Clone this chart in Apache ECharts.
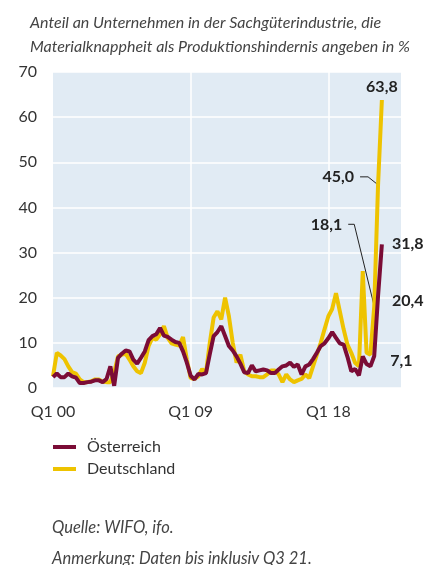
<!DOCTYPE html>
<html>
<head>
<meta charset="utf-8">
<script src="https://cdn.jsdelivr.net/npm/echarts@6/dist/echarts.min.js"></script>
<style>
  html, body { margin: 0; padding: 0; background: #fff; }
  #chart { width: 439px; height: 565px; }
</style>
</head>
<body>
<div id="chart"></div>
<script>
// quarterly values Q1 2000 .. Q3 2021
var oesterreich = [
  2.4, 3.2, 2.4, 2.4, 3.2, 2.6, 2.3, 1.1, 1.1, 1.3,
  1.4, 1.7, 1.7, 1.3, 2.0, 4.8, 0.5, 6.7, 7.6, 8.3,
  8.1, 6.3, 5.4, 6.7, 8.1, 10.6, 11.5, 11.9, 13.3, 11.6,
  11.3, 10.7, 10.2, 10.0, 8.1, 5.6, 2.7, 1.9, 3.1, 3.0,
  3.3, 7.5, 11.5, 12.4, 13.7, 11.5, 9.3, 8.3, 7.0, 5.4,
  3.5, 3.3, 5.0, 3.7, 3.9, 4.1, 3.9, 3.3, 3.3, 4.1,
  4.8, 5.0, 5.6, 4.7, 5.2, 3.0, 4.8, 5.2, 6.4, 7.8,
  9.3, 9.9, 11.0, 12.4, 11.1, 9.9, 9.6, 6.9, 3.7, 4.2,
  2.8, 7.0, 5.3, 4.8, 7.1, 20.4, 31.8
];
var deutschland = [
  2.6, 7.8, 7.2, 6.4, 4.8, 3.5, 3.2, 1.9, 1.3, 1.3,
  1.5, 1.9, 1.9, 1.4, 1.3, 1.3, 3.5, 7.0, 7.4, 7.6,
  6.3, 4.8, 3.7, 3.3, 5.6, 9.3, 11.1, 10.7, 11.9, 13.7,
  11.1, 9.9, 9.6, 9.4, 11.3, 6.3, 2.2, 2.0, 2.6, 4.2,
  3.3, 10.0, 15.6, 17.0, 15.2, 20.0, 15.9, 10.0, 5.6, 7.4,
  3.7, 3.0, 2.6, 2.6, 2.4, 2.4, 3.0, 3.9, 3.9, 3.0,
  1.3, 3.0, 1.9, 1.3, 1.7, 2.0, 3.0, 2.2, 4.8, 7.4,
  10.0, 13.0, 15.9, 17.5, 21.0, 17.0, 13.0, 9.6, 7.8, 5.6,
  4.8, 25.9, 7.8, 7.4, 18.1, 45.0, 63.8
];
var tickLabels = ['Q1 00', 'Q1 09', 'Q1 18'];
var yTicks = [0, 10, 20, 30, 40, 50, 60, 70];

// axis runs Q1 2000 .. Q4 2022
var quarters = [];
for (var y = 0; y <= 22; y++) {
  for (var q = 1; q <= 4; q++) {
    quarters.push('Q' + q + ' ' + (y < 10 ? '0' + y : '' + y));
  }
}

var font = 'Lato, "Open Sans", sans-serif';
var fmt = function (v) { return v.toFixed(1).replace('.', ','); };

var chart = echarts.init(document.getElementById('chart'));
chart.setOption({
  animation: false,
  textStyle: { fontFamily: font },
  title: [{
    text: 'Anteil an Unternehmen in der Sachgüterindustrie, die\nMaterialknappheit als Produktionshindernis angeben in %',
    left: 25, top: 6,
    textStyle: { fontFamily: font, fontStyle: 'italic', fontWeight: 'normal', fontSize: 16, lineHeight: 24, color: '#444' }
  }, {
    text: 'Quelle: WIFO, ifo.',
    left: 47, top: 514,
    textStyle: { fontFamily: font, fontStyle: 'italic', fontWeight: 'normal', fontSize: 16.5, color: '#444' }
  }, {
    text: 'Anmerkung: Daten bis inklusiv Q3 21.',
    left: 47, top: 545,
    textStyle: { fontFamily: font, fontStyle: 'italic', fontWeight: 'normal', fontSize: 16.5, color: '#444' }
  }],
  legend: {
    data: ['Österreich', 'Deutschland'],
    orient: 'vertical',
    left: 48, top: 434,
    icon: 'rect',
    itemWidth: 23, itemHeight: 4,
    itemGap: 6,
    textStyle: { fontFamily: font, fontSize: 16, color: '#333', padding: [0, 0, 0, 6], lineHeight: 16 }
  },
  grid: { left: 53, right: 38, top: 72, bottom: 177, show: true, backgroundColor: '#e1ebf4', borderWidth: 0 },
  xAxis: {
    type: 'category',
    data: quarters,
    boundaryGap: false,
    axisLine: { show: false },
    axisTick: { show: false },
    axisLabel: {
      interval: function (i, v) { return tickLabels.indexOf(v) >= 0; },
      fontSize: 16, color: '#333', margin: 16
    },
    splitLine: {
      show: true,
      interval: function (i, v) { return i > 0 && tickLabels.indexOf(v) >= 0; },
      lineStyle: { color: '#fff', width: 1.5 }
    }
  },
  yAxis: {
    type: 'value',
    min: yTicks[0], max: yTicks[yTicks.length - 1], interval: 10,
    axisLine: { show: false },
    axisTick: { show: false },
    axisLabel: { fontSize: 16, color: '#333', margin: 16 },
    splitLine: { lineStyle: { color: '#fff', width: 1.5 } }
  },
  series: [{
    name: 'Deutschland',
    type: 'line',
    data: deutschland,
    showSymbol: false,
    lineStyle: { color: '#eec300', width: 4 },
    itemStyle: { color: '#eec300' }
  }, {
    name: 'Österreich',
    type: 'line',
    data: oesterreich,
    showSymbol: false,
    lineStyle: { color: '#7b0c36', width: 4 },
    itemStyle: { color: '#7b0c36' }
  }]
});

// value annotations next to the last three quarters
var n = deutschland.length;
var px = function (s, i, v) { return chart.convertToPixel({ seriesIndex: s }, [i, v]); };
var labStyle = { fontFamily: font, fontWeight: 'bold', fontSize: 16, fill: '#222' };
var g = [];
function addText(str, x, y, align) {
  g.push({ type: 'text', x: x, y: y, style: Object.assign({ text: str, align: align, verticalAlign: 'middle' }, labStyle) });
}
var d1 = px(0, n - 1, deutschland[n - 1]);
addText(fmt(deutschland[n - 1]), d1[0], d1[1] - 13, 'center');
var d2 = px(0, n - 2, deutschland[n - 2]);
addText(fmt(deutschland[n - 2]), d2[0] - 24, d2[1] - 8, 'right');
g.push({ type: 'polyline', shape: { points: [[d2[0] - 18, d2[1] - 8], [d2[0] - 10, d2[1] - 8], d2] }, style: { stroke: '#222', lineWidth: 1, fill: null } });
var d3 = px(0, n - 3, deutschland[n - 3]);
addText(fmt(deutschland[n - 3]), d3[0] - 32, d3[1] - 81, 'right');
g.push({ type: 'polyline', shape: { points: [[d3[0] - 26, d3[1] - 82], [d3[0] - 20, d3[1] - 82], d3] }, style: { stroke: '#222', lineWidth: 1, fill: null } });
var a1 = px(1, n - 1, oesterreich[n - 1]);
addText(fmt(oesterreich[n - 1]), a1[0] + 10, a1[1] - 1, 'left');
var a2 = px(1, n - 2, oesterreich[n - 2]);
addText(fmt(oesterreich[n - 2]), a2[0] + 14, a2[1] + 5, 'left');
var a3 = px(1, n - 3, oesterreich[n - 3]);
addText(fmt(oesterreich[n - 3]), a3[0] + 16, a3[1] + 5, 'left');
chart.setOption({ graphic: g });
</script>
</body>
</html>
